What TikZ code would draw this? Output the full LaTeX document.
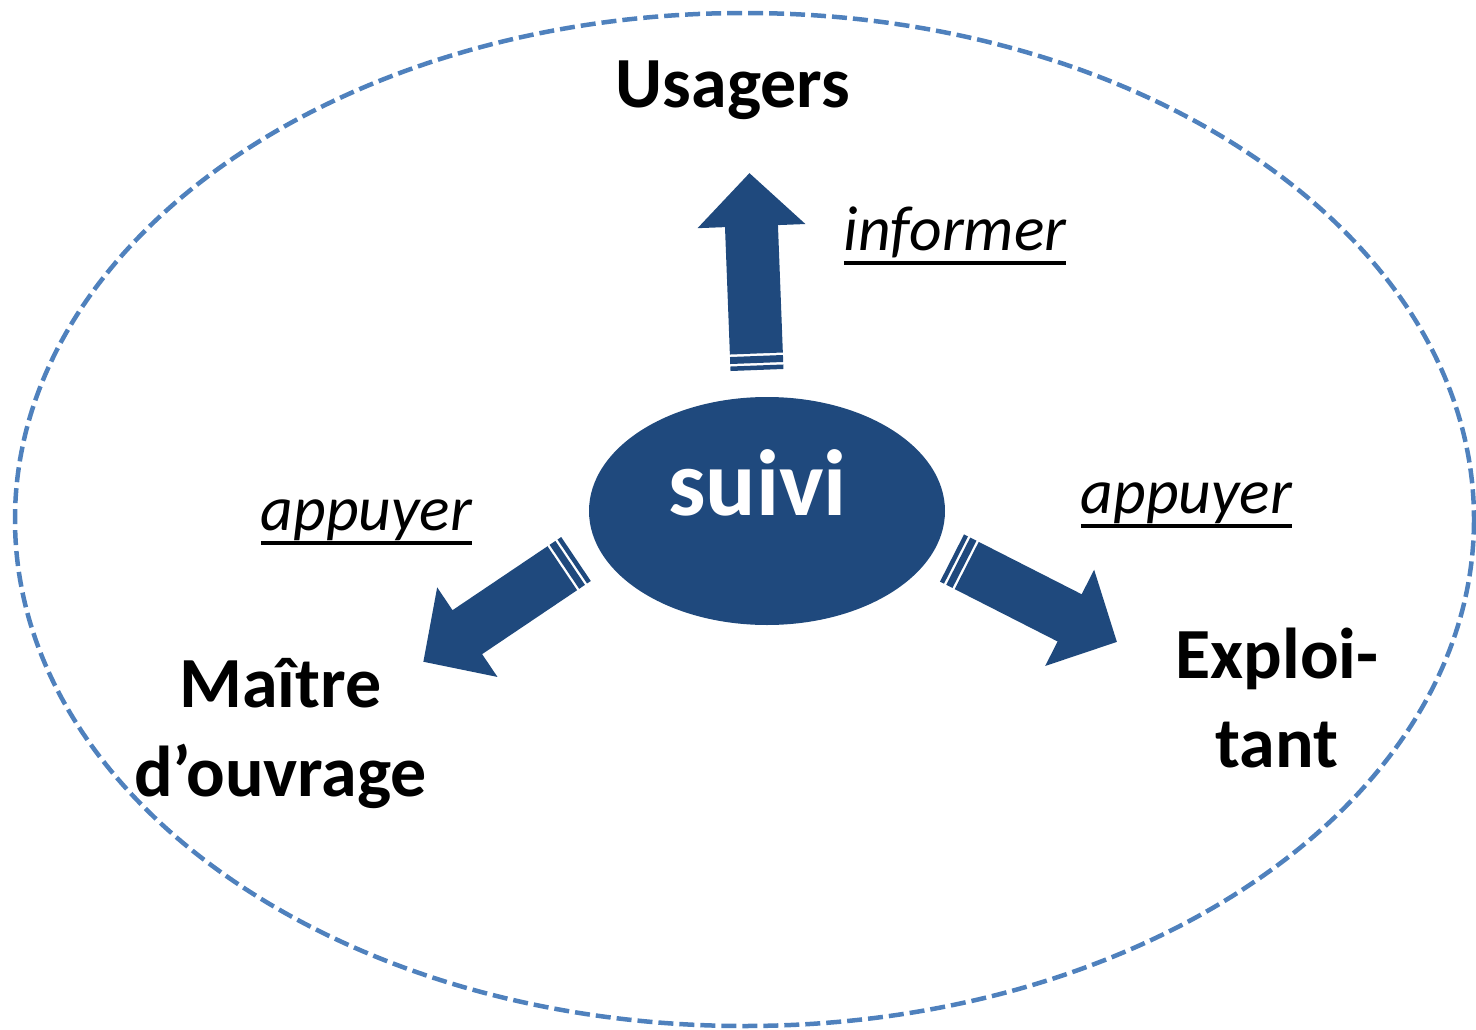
\documentclass[tikz,border=0pt]{standalone}
\usepackage{fontspec}
\setmainfont{Carlito}
\usetikzlibrary{shapes.geometric}
\definecolor{dkblue}{HTML}{1F497D}
\definecolor{ltblue}{HTML}{4F81BD}
\newcommand\ulword[1]{\setbox0\hbox{#1}\rlap{\rule[-14.75pt]{\wd0}{3.5pt}}\box0}
\newcommand\stripedarrow[3]{%
  \begin{scope}[shift={#1},rotate=#2]
    \fill[dkblue] (0,-26.5) rectangle (4.5,26.5);
    \fill[dkblue] (7,-26.5) rectangle (14,26.5);
    \fill[dkblue] (16.5,-26.5) -- ({#3-53},-26.5) -- ({#3-53},-54) -- (#3,0)
      -- ({#3-53},54) -- ({#3-53},26.5) -- (16.5,26.5) -- cycle;
  \end{scope}}
\tikzset{
  bigbold/.style={font=\fontsize{72}{89}\selectfont\bfseries, inner sep=0pt, align=center},
  verb/.style={font=\fontsize{63.5}{70}\selectfont\itshape, inner sep=0pt},
  boundary/.style={draw=ltblue, line width=4.5pt, dash pattern=on 15pt off 6pt},
}
\begin{document}
\begin{tikzpicture}[x=1pt,y=-1pt]
\useasboundingbox (0,0) rectangle (1476,1030);
\draw[boundary] (744.5,519.5) ellipse [x radius=729.5, y radius=506.5];
\node[ellipse, fill=dkblue, minimum width=356pt, minimum height=228pt, inner sep=0pt,
      text=white, font=\fontsize{94}{100}\selectfont\bfseries,
      text height=36pt, text depth=28pt] (suivi) at (767,511) {\kern-19pt suivi};
\stripedarrow{(757,370)}{92.2}{197}
\stripedarrow{(576,559)}{213.95}{184}
\stripedarrow{(952,558)}{-26.97}{185}
\node[bigbold, anchor=base] (usagers) at (733,108) {Usagers};
\node[verb, anchor=base] (informer) at (955,250) {\ulword{informer}};
\node[verb, anchor=base] (appuyer1) at (366.5,530) {\ulword{appuyer}};
\node[verb, anchor=base] (appuyer2) at (1186.5,513) {\ulword{appuyer}};
\node[bigbold, anchor=base] (maitre) at (280.5,796) {Maître\\d’ouvrage};
\node[bigbold, anchor=base] (exploitant) at (1277,767) {Exploi-\\tant};
\end{tikzpicture}
\end{document}
